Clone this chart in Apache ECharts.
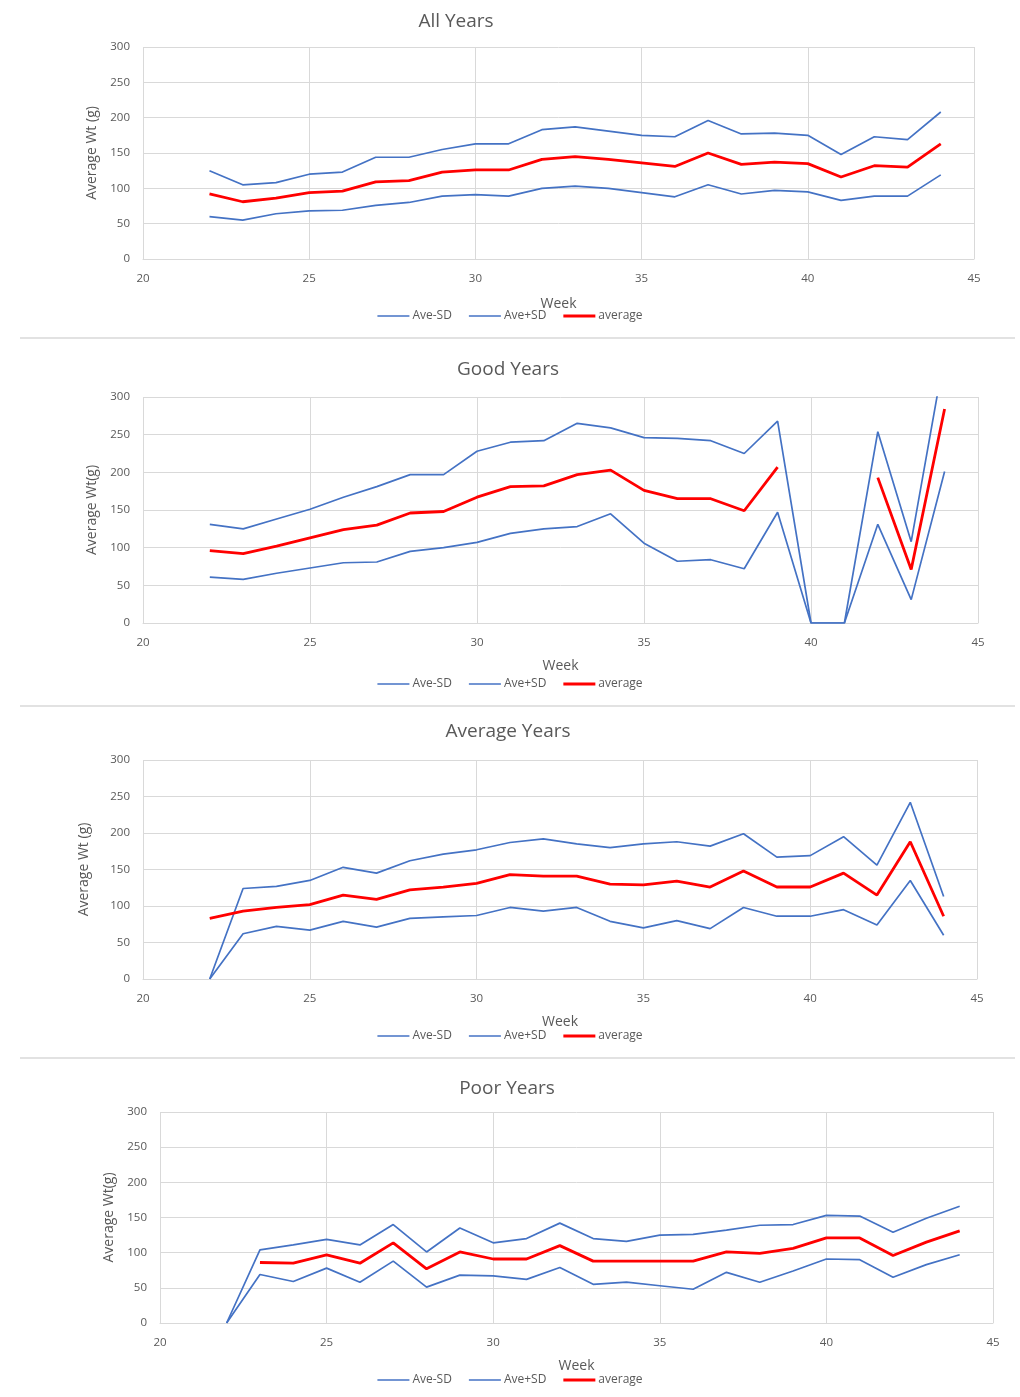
<!DOCTYPE html>
<html>
<head>
<meta charset="utf-8">
<script src="https://cdn.jsdelivr.net/npm/echarts@6/dist/echarts.min.js"></script>
<style>
  html, body { margin: 0; background: #fff; }
  #chart { width: 1020px; height: 1397px; }
</style>
</head>
<body>
<div id="chart"></div>
<script>
// weeks 22..44
const weeks = [22, 23, 24, 25, 26, 27, 28, 29, 30, 31, 32, 33, 34, 35, 36, 37, 38, 39, 40, 41, 42, 43, 44];
const seriesNames = ["Ave-SD", "Ave+SD", "average"];

// All Years
const allMinus = [60, 55, 64, 68, 69, 76, 80, 89, 91, 89, 100, 103, 100, 94, 88, 105, 92, 97, 95, 83, 89, 89, 119];
const allPlus = [125, 105, 108, 120, 123, 144, 144, 155, 163, 163, 183, 187, 181, 175, 173, 196, 177, 178, 175, 148, 173, 169, 208];
const allAvg = [92, 81, 86, 94, 96, 109, 111, 123, 126, 126, 141, 145, 141, 136, 131, 150, 134, 137, 135, 116, 132, 130, 163];

// Good Years
const goodMinus = [61, 58, 66, 73, 80, 81, 95, 100, 107, 119, 125, 128, 145, 106, 82, 84, 72, 147, 0, 0, 131, 31, 201];
const goodPlus = [131, 125, 138, 151, 167, 181, 197, 197, 228, 240, 242, 265, 259, 246, 245, 242, 225, 268, 0, 0, 254, 108, 357];
const goodAvg = [96, 92, 102, 113, 124, 130, 146, 148, 167, 181, 182, 197, 203, 176, 165, 165, 149, 207, null, null, 193, 71, 284];

// Average Years
const avgMinus = [0, 62, 72, 67, 79, 71, 83, 85, 87, 98, 93, 98, 79, 70, 80, 69, 98, 86, 86, 95, 74, 135, 60];
const avgPlus = [0, 124, 127, 135, 153, 145, 162, 171, 177, 187, 192, 185, 180, 185, 188, 182, 199, 167, 169, 195, 156, 242, 113];
const avgAvg = [83, 93, 98, 102, 115, 109, 122, 126, 131, 143, 141, 141, 130, 129, 134, 126, 148, 126, 126, 145, 115, 188, 86];

// Poor Years
const poorMinus = [0, 69, 59, 78, 58, 88, 51, 68, 67, 62, 79, 55, 58, 53, 48, 72, 58, 74, 91, 90, 65, 83, 97];
const poorPlus = [0, 104, 111, 119, 111, 140, 101, 135, 114, 120, 142, 120, 116, 125, 126, 132, 139, 140, 153, 152, 129, 149, 166];
const poorAvg = [null, 86, 85, 97, 85, 114, 77, 101, 91, 91, 110, 88, 88, 88, 88, 101, 99, 106, 121, 121, 96, 115, 131];

const BLUE = "#4472C4";
const RED = "#FF0000";
const TEXT = "#595959";
const GRID = "#d9d9d9";
const FONT = "'Open Sans', sans-serif";

const panels = [
  { title: "All Years", titleX: 451, titleTop: 7, left: 143, right: 46, top: 47, height: 212, yName: "Average Wt (g)", yGap: 43, weekGap: 38, legendTop: 305, lines: [allMinus, allPlus, allAvg] },
  { title: "Good Years", titleX: 503, titleTop: 355, left: 143, right: 42, top: 397, height: 226, yName: "Average Wt(g)", yGap: 44, weekGap: 36, legendTop: 673, lines: [goodMinus, goodPlus, goodAvg] },
  { title: "Average Years", titleX: 503, titleTop: 717, left: 143, right: 43, top: 760, height: 219, yName: "Average Wt (g)", yGap: 52, weekGap: 36, legendTop: 1025, lines: [avgMinus, avgPlus, avgAvg] },
  { title: "Poor Years", titleX: 502, titleTop: 1074, left: 160, right: 27, top: 1112, height: 211, yName: "Average Wt(g)", yGap: 43, weekGap: 36, legendTop: 1369, lines: [poorMinus, poorPlus, poorAvg] },
];

const toPairs = (vals) => weeks.map((w, i) => [w, vals[i]]);

// plain line icons for the legend, thin blue and thicker red
const legendData = [
  { name: "Ave-SD", icon: "path://M0,0h32v1.7h-32z" },
  { name: "Ave+SD", icon: "path://M0,0h32v1.7h-32z" },
  { name: "average", icon: "path://M0,0h32v2.8h-32z" },
];

const option = {
  backgroundColor: "#fff",
  animation: false,
  title: [],
  legend: [],
  grid: [],
  xAxis: [],
  yAxis: [],
  series: [],
  graphic: [338, 706, 1058].map((y) => ({
    type: "line",
    shape: { x1: 20, y1: y, x2: 1015, y2: y },
    style: { stroke: GRID, lineWidth: 1.5 },
  })),
};

panels.forEach((p, idx) => {
  option.title.push({
    text: p.title,
    left: p.titleX,
    top: p.titleTop,
    textAlign: "center",
    textStyle: { fontFamily: FONT, fontSize: 19, fontWeight: "normal", color: TEXT },
  });
  option.legend.push({
    top: p.legendTop,
    left: "center",
    itemWidth: 32,
    itemHeight: 14,
    itemGap: 17,
    data: legendData,
    textStyle: { fontFamily: FONT, fontSize: 12, color: TEXT, padding: [0, 0, 0, -2] },
  });
  option.grid.push({ left: p.left, right: p.right, top: p.top, height: p.height });
  option.xAxis.push({
    gridIndex: idx,
    type: "value",
    min: 20,
    max: 45,
    interval: 5,
    name: "Week",
    nameLocation: "middle",
    nameGap: p.weekGap,
    nameTextStyle: { fontFamily: FONT, fontSize: 14, color: TEXT },
    axisLine: { show: true, lineStyle: { color: GRID } },
    axisTick: { show: false },
    axisLabel: { margin: 14, fontFamily: FONT, fontSize: 11.5, color: TEXT },
    splitLine: { show: true, lineStyle: { color: GRID, width: 1 } },
  });
  option.yAxis.push({
    gridIndex: idx,
    type: "value",
    min: 0,
    max: 300,
    interval: 50,
    name: p.yName,
    nameLocation: "middle",
    nameGap: p.yGap,
    nameTextStyle: { fontFamily: FONT, fontSize: 14, color: TEXT },
    axisLine: { show: false },
    axisTick: { show: false },
    axisLabel: { margin: 13, fontFamily: FONT, fontSize: 11.5, color: TEXT },
    splitLine: { show: true, lineStyle: { color: GRID, width: 1 } },
  });
  p.lines.forEach((vals, k) => {
    const isAvg = k === 2;
    option.series.push({
      name: seriesNames[k],
      type: "line",
      xAxisIndex: idx,
      yAxisIndex: idx,
      data: toPairs(vals),
      symbol: "none",
      connectNulls: false,
      color: isAvg ? RED : BLUE,
      lineStyle: { color: isAvg ? RED : BLUE, width: isAvg ? 2.8 : 1.7 },
      z: isAvg ? 3 : 2,
    });
  });
});

const myChart = echarts.init(document.getElementById("chart"));
myChart.setOption(option);
</script>
</body>
</html>
